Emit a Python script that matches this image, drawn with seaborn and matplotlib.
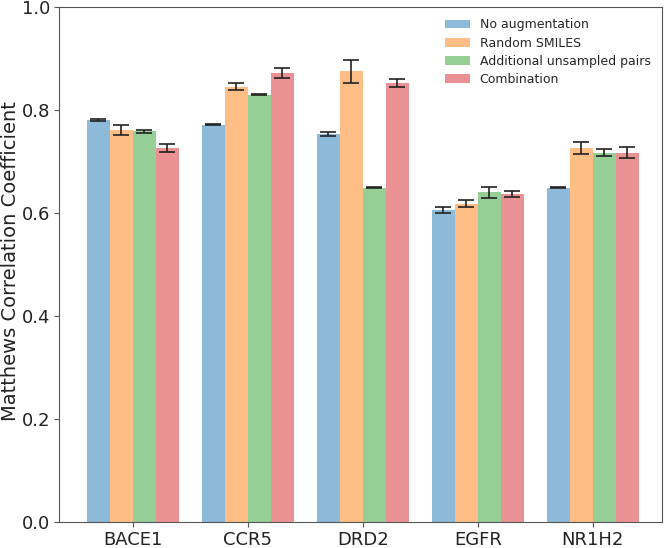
import numpy as np
import pandas as pd
import matplotlib
matplotlib.use("Agg")
import matplotlib.pyplot as plt
import seaborn as sns

# datos
targets = ["BACE1", "CCR5", "DRD2", "EGFR", "NR1H2"]
methods = ["No augmentation", "Random SMILES", "Additional unsampled pairs", "Combination"]

no_aug = [0.781, 0.771, 0.754, 0.605, 0.649]
random_smiles = [0.761, 0.845, 0.875, 0.618, 0.726]
extra_pairs = [0.759, 0.830, 0.649, 0.640, 0.717]
combination = [0.726, 0.872, 0.852, 0.637, 0.717]

no_aug_err = [0.002, 0.001, 0.004, 0.006, 0.001]
random_smiles_err = [0.010, 0.007, 0.022, 0.007, 0.011]
extra_pairs_err = [0.003, 0.001, 0.001, 0.010, 0.007]
combination_err = [0.008, 0.009, 0.008, 0.006, 0.011]

colors = ["#1f77b4", "#ff7f0e", "#2ca02c", "#d62728"]

values = [no_aug, random_smiles, extra_pairs, combination]
errors = [no_aug_err, random_smiles_err, extra_pairs_err, combination_err]

rows = []
for m, vals, errs in zip(methods, values, errors):
    for t, v, e in zip(targets, vals, errs):
        rows.append({"target": t, "method": m, "mcc": v, "err": e})
df = pd.DataFrame(rows)

sns.set_style("ticks")
plt.rcParams["font.family"] = ["DejaVu Sans"]

fig = plt.figure(figsize=(6.66, 5.48), dpi=100)
ax = fig.add_axes([0.0886, 0.048, 0.905, 0.939])

sns.barplot(
    data=df, x="target", y="mcc", hue="method",
    order=targets, hue_order=methods,
    palette=colors, alpha=0.5, errorbar=None,
    width=0.8, saturation=1, linewidth=0, ax=ax
)

# barras de error con las posiciones de seaborn
for container, m in zip(ax.containers, methods):
    sub = df[df["method"] == m].set_index("target").loc[targets]
    xs = [p.get_x() + p.get_width() / 2 for p in container.patches]
    ax.errorbar(xs, sub["mcc"].values, yerr=sub["err"].values,
                fmt="none", ecolor="#222222", elinewidth=1.2,
                capsize=5.5, capthick=1.2)

ax.set_ylim(0, 1.0)
ax.set_xlim(-0.64, 4.60)
ax.set_yticks([0.0, 0.2, 0.4, 0.6, 0.8, 1.0])
ax.set_xlabel("")
ax.set_ylabel("Matthews Correlation Coefficient", fontsize=14, color="#222222")
ax.yaxis.set_label_coords(-0.064, 0.506)
ax.tick_params(labelsize=13, colors="#222222", pad=3)
ax.tick_params(axis="both", color="#555555")

for s in ax.spines.values():
    s.set_visible(True)
    s.set_color("#555555")

ax.legend(loc="upper right", frameon=False, fontsize=9, labelspacing=0.42)

plt.savefig("out.png", dpi=100)
